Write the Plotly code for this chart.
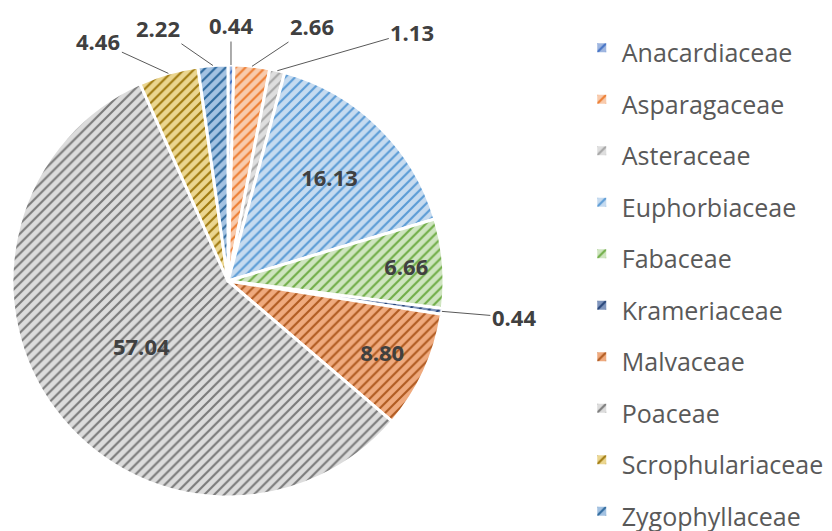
import math
import plotly.graph_objects as go

families = ["Anacardiaceae", "Asparagaceae", "Asteraceae", "Euphorbiaceae", "Fabaceae",
            "Krameriaceae", "Malvaceae", "Poaceae", "Scrophulariaceae", "Zygophyllaceae"]
percent = [0.44, 2.66, 1.13, 16.13, 6.66, 0.44, 8.80, 57.04, 4.46, 2.22]

stripe_colors = ["#4472C4", "#ED7D31", "#A5A5A5", "#5B9BD5", "#70AD47",
                 "#264478", "#B05A20", "#7A7A7A", "#A07A10", "#2F6A9E"]
back_colors = ["#9FB6E0", "#F8CBAD", "#DEDEDE", "#C6DBF0", "#CFE5C0",
               "#7F95BD", "#EFAA7E", "#DCDCDC", "#EBD690", "#A3C2E2"]

# page has an 8px body margin: figure is drawn offset by (8, 8)
OFF = 8
W, H = 824, 545
dom_x = [(12 - OFF) / W, (444 - OFF) / W]
dom_y = [(H - (497 - OFF)) / H, (H - (65 - OFF)) / H]

inside = [v >= 5 for v in percent]
texts = [f"<b>{v:.2f}</b>" if ins else "" for v, ins in zip(percent, inside)]
legend_labels = [f'<span style="font-size:25px">{n}</span>' for n in families]

fig = go.Figure(go.Pie(
    labels=legend_labels,
    values=percent,
    sort=False,
    direction="clockwise",
    rotation=0,
    text=texts,
    textinfo="text",
    textposition="inside",
    insidetextorientation="horizontal",
    textfont=dict(family="Open Sans", size=22, color="#404040"),
    marker=dict(
        colors=back_colors,
        line=dict(color="white", width=3),
        pattern=dict(shape="/", fgcolor=stripe_colors, bgcolor=back_colors,
                     size=7, solidity=0.3, fillmode="replace"),
    ),
    domain=dict(x=dom_x, y=dom_y),
    hoverinfo="skip",
))

# leader-line labels for small slices
cx = (dom_x[0] + dom_x[1]) / 2 * W
cy = H - (dom_y[0] + dom_y[1]) / 2 * H
r = min((dom_x[1] - dom_x[0]) * W, (dom_y[1] - dom_y[0]) * H) / 2
offsets = {0: (0, -40), 1: (60, -40), 2: (135, -39), 5: (72, 6), 8: (-70, -32), 9: (-55, -38)}
total = sum(percent)
cum = 0.0
for i, v in enumerate(percent):
    mid = (cum + v / 2) / total * 2 * math.pi
    cum += v
    if i not in offsets:
        continue
    px = cx + r * math.sin(mid)
    py = cy - r * math.cos(mid)
    ax, ay = offsets[i]
    fig.add_annotation(
        x=px / W, y=1 - py / H, xref="paper", yref="paper",
        text=f"<b>{v:.2f}</b>", showarrow=True, arrowhead=0, arrowwidth=1,
        arrowcolor="#595959", ax=ax, ay=ay,
        font=dict(family="Open Sans", size=22, color="#404040"),
    )

fig.update_layout(
    width=W, height=H,
    margin=dict(l=0, r=0, t=0, b=0),
    paper_bgcolor="white",
    showlegend=True,
    legend=dict(
        x=0.6963, xanchor="left", y=1 - 9 / H, yanchor="top",
        font=dict(family="Open Sans", size=37.3, color="#595959"),
        bgcolor="rgba(0,0,0,0)",
    ),
)

fig.write_html("out.html")
